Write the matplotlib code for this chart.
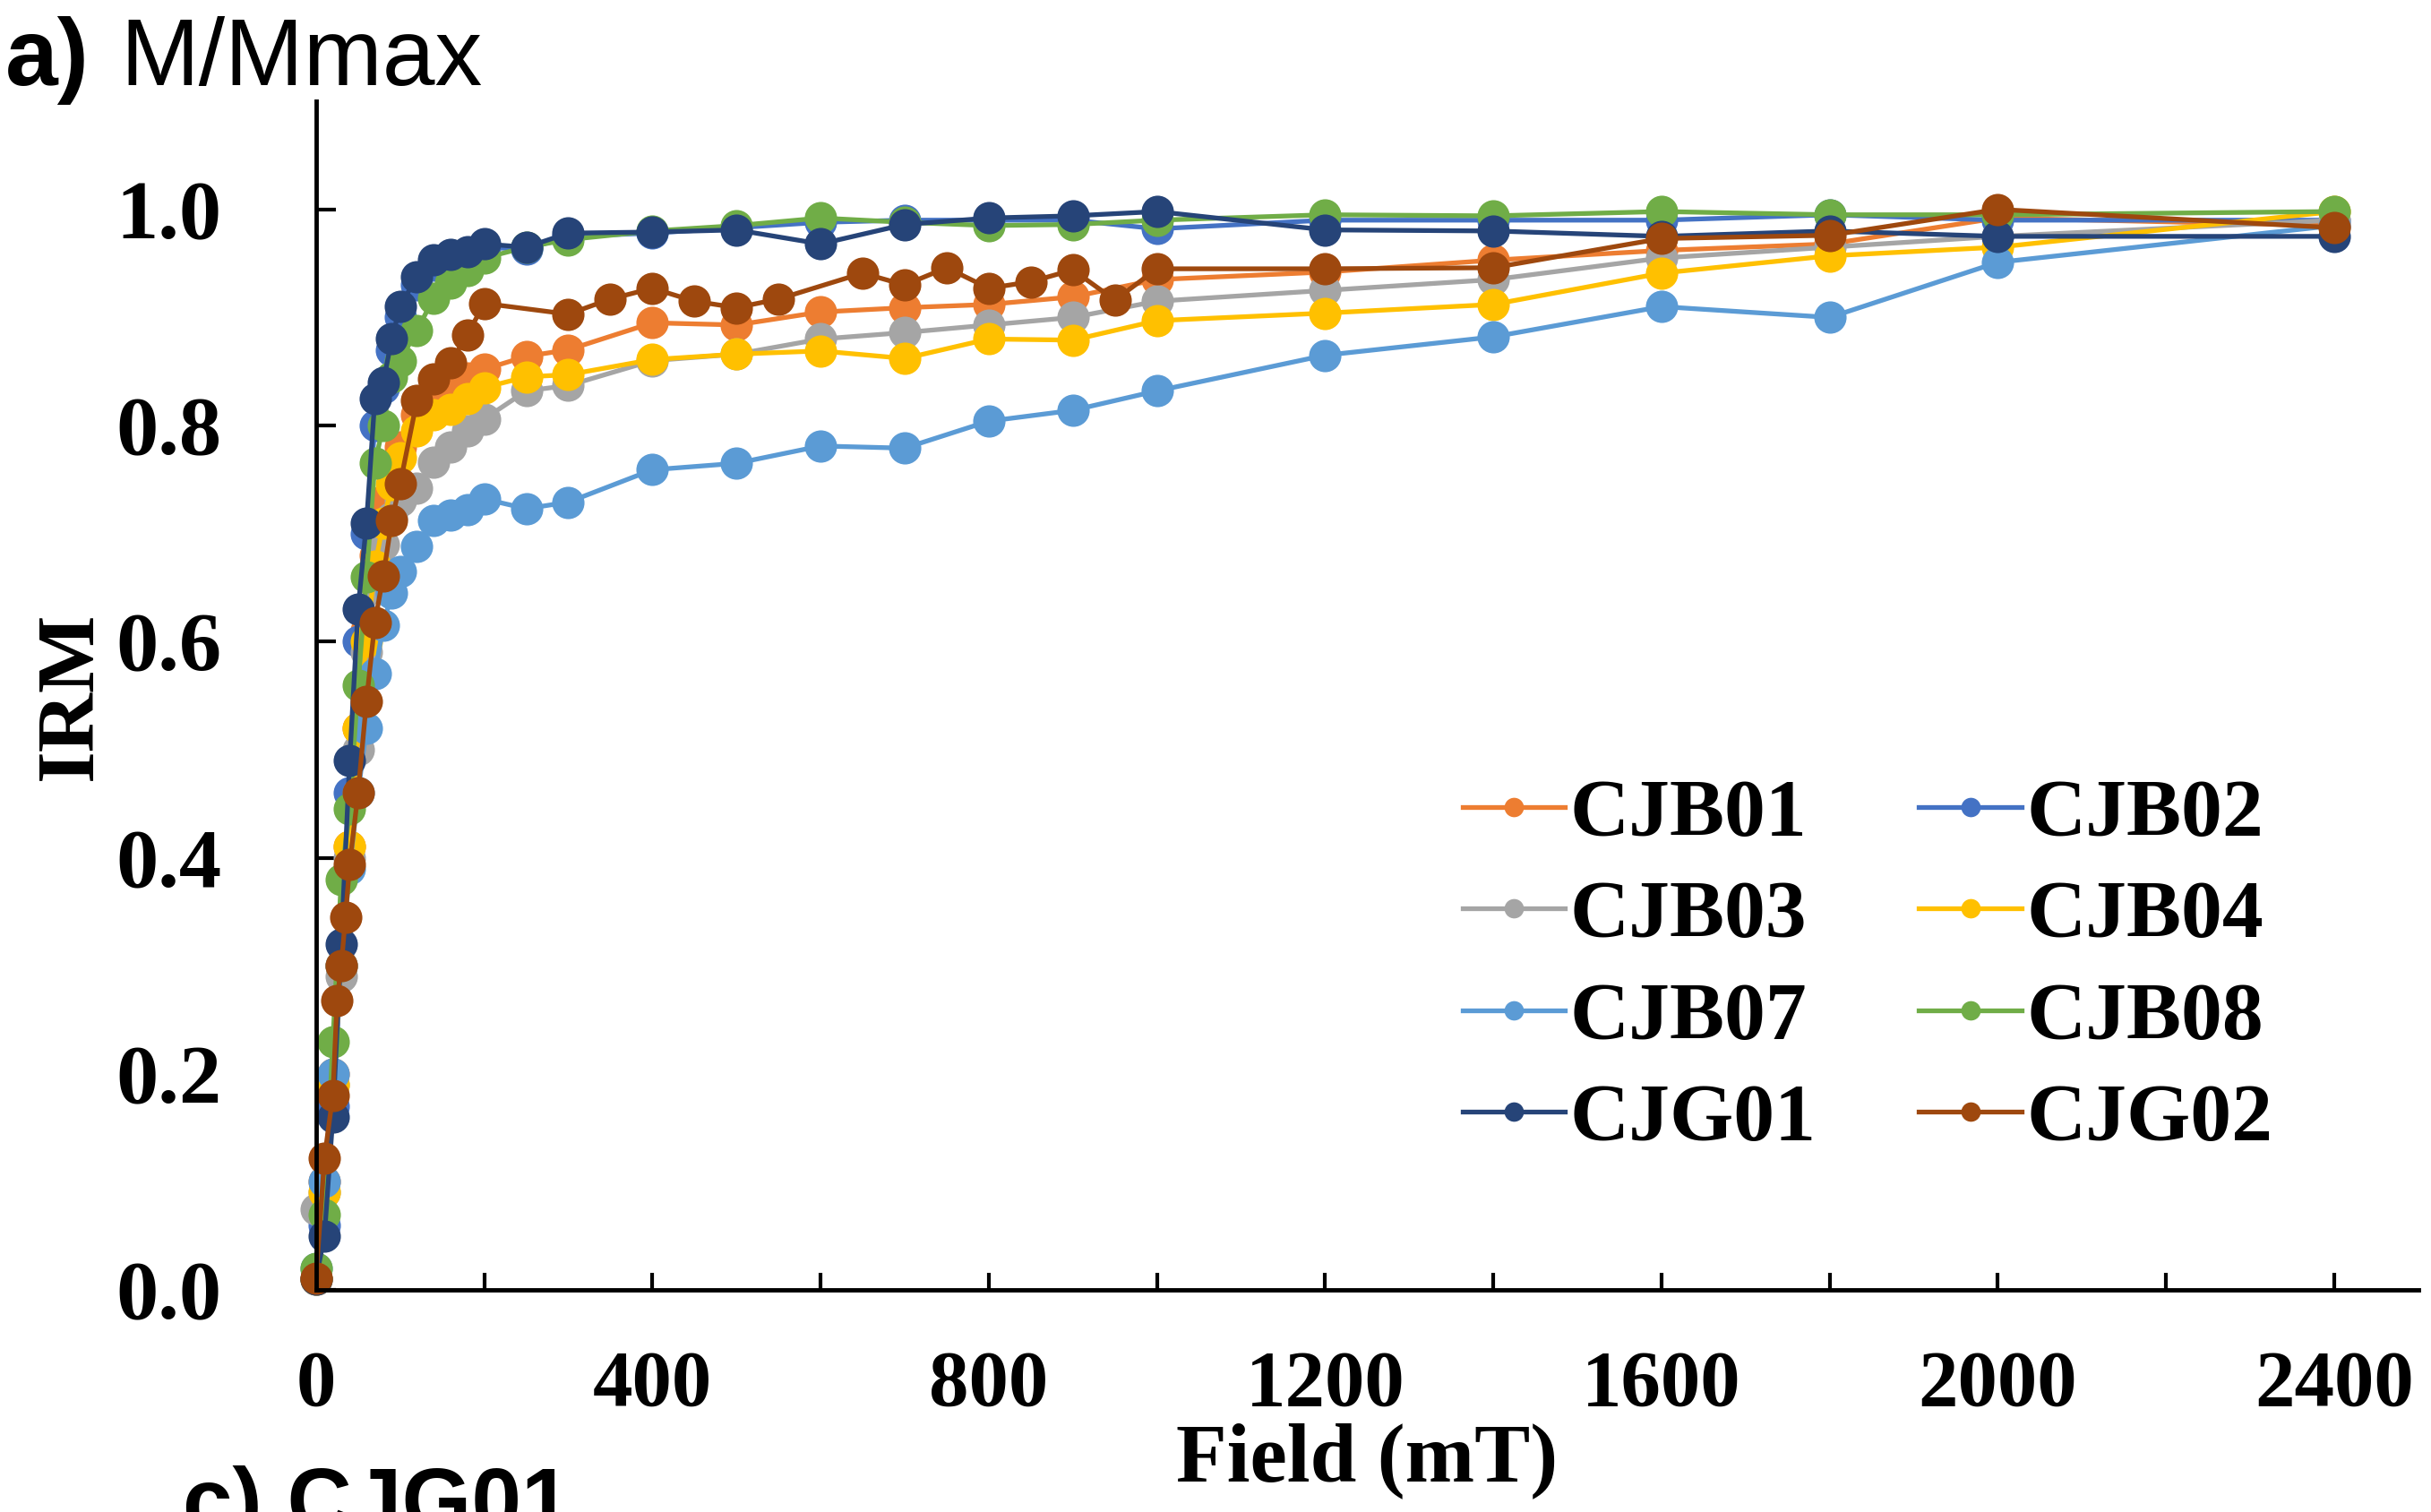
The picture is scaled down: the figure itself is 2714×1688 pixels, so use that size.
import matplotlib
matplotlib.use("Agg")
import matplotlib.pyplot as plt
from matplotlib.ticker import MultipleLocator, FormatStrFormatter

# ----- data ------------------------------------------------------------------
field = [0, 10, 20, 30, 40, 50, 60, 70, 80, 90, 100, 120, 140, 160, 180, 200,
         250, 300, 400, 500, 600, 700, 800, 900, 1000, 1200, 1400, 1600, 1800,
         2000, 2400]
field_g02 = [0, 10, 20, 25, 30, 35, 40, 50, 60, 70, 80, 90, 100, 120, 140, 160,
             180, 200, 300, 350, 400, 450, 500, 550, 650, 700, 750, 800, 850,
             900, 950, 1000, 1200, 1400, 1600, 1800, 2000, 2400]

cjb01 = [0.01, 0.10, 0.20, 0.30, 0.41, 0.52, 0.61, 0.68, 0.73, 0.76, 0.78, 0.81,
         0.826, 0.835, 0.844, 0.852, 0.864, 0.870, 0.895, 0.893, 0.905, 0.909,
         0.912, 0.919, 0.935, 0.942, 0.953, 0.962, 0.968, 0.992, 0.985]
cjb02 = [0.01, 0.06, 0.17, 0.30, 0.46, 0.60, 0.70, 0.80, 0.835, 0.87, 0.90, 0.93,
         0.948, 0.955, 0.96, 0.965, 0.963, 0.975, 0.978, 0.983, 0.988, 0.99,
         0.99, 0.99, 0.982, 0.99, 0.99, 0.99, 0.995, 0.99, 0.99]
cjb03 = [0.075, 0.09, 0.19, 0.29, 0.40, 0.50, 0.59, 0.65, 0.69, 0.715, 0.73,
         0.742, 0.766, 0.78, 0.795, 0.806, 0.832, 0.837, 0.86, 0.866, 0.88,
         0.886, 0.893, 0.90, 0.915, 0.925, 0.935, 0.955, 0.965, 0.975, 0.99]
cjb04 = [0.01, 0.09, 0.19, 0.30, 0.41, 0.52, 0.60, 0.67, 0.71, 0.745, 0.77,
         0.795, 0.81, 0.815, 0.825, 0.835, 0.845, 0.847, 0.861, 0.866, 0.869,
         0.862, 0.88, 0.879, 0.897, 0.904, 0.912, 0.941, 0.957, 0.965, 0.998]
cjb07 = [0.02, 0.10, 0.20, 0.30, 0.39, 0.46, 0.52, 0.57, 0.615, 0.645, 0.665,
         0.688, 0.712, 0.717, 0.722, 0.732, 0.723, 0.729, 0.759, 0.765, 0.781,
         0.779, 0.804, 0.814, 0.832, 0.865, 0.882, 0.910, 0.900, 0.951, 0.985]
cjb08 = [0.02, 0.07, 0.23, 0.38, 0.445, 0.56, 0.66, 0.765, 0.80, 0.845, 0.86,
         0.888, 0.918, 0.932, 0.943, 0.955, 0.965, 0.972, 0.98, 0.985, 0.992,
         0.988, 0.985, 0.986, 0.99, 0.995, 0.994, 0.998, 0.995, 0.995, 0.998]
cjg01 = [0.01, 0.05, 0.16, 0.32, 0.49, 0.63, 0.71, 0.825, 0.84, 0.88, 0.91,
         0.938, 0.953, 0.958, 0.961, 0.968, 0.965, 0.978, 0.979, 0.981, 0.968,
         0.986, 0.992, 0.994, 0.998, 0.981, 0.98, 0.975, 0.98, 0.975, 0.975]
cjg02 = [0.011, 0.122, 0.18, 0.268, 0.30, 0.345, 0.394, 0.46, 0.545, 0.618,
         0.661, 0.712, 0.746, 0.823, 0.843, 0.858, 0.884, 0.913, 0.903, 0.917,
         0.927, 0.915, 0.909, 0.917, 0.941, 0.930, 0.946, 0.927, 0.933, 0.944,
         0.916, 0.945, 0.945, 0.946, 0.973, 0.976, 1.0, 0.983]

names = ["CJB01", "CJB02", "CJB03", "CJB04", "CJB07", "CJB08", "CJG01", "CJG02"]
colors = ["#ED7D31", "#4472C4", "#A5A5A5", "#FFC000",
          "#5B9BD5", "#70AD47", "#264478", "#9E480E"]
series = [(field, cjb01), (field, cjb02), (field, cjb03), (field, cjb04),
          (field, cjb07), (field, cjb08), (field, cjg01), (field_g02, cjg02)]
# -----------------------------------------------------------------------------

serif = "Liberation Serif"
sans = "Liberation Sans"

fig = plt.figure(figsize=(27.14, 16.88), dpi=100)
ax = fig.add_axes([0.130, 0.1469, 0.8648, 0.7861])

handles = {}
for name, col, (x, y) in zip(names, colors, series):
    h, = ax.plot(x, y, color=col, lw=3.8, marker='o', ms=26,
                 markeredgewidth=0, label=name, clip_on=False)
    handles[name] = h

ax.set_xlim(0, 2500)
ax.set_ylim(0, 1.1)
ax.xaxis.set_major_locator(MultipleLocator(400))
ax.xaxis.set_minor_locator(MultipleLocator(200))
ax.set_yticks([0, 0.2, 0.4, 0.6, 0.8, 1.0])
ax.yaxis.set_major_formatter(FormatStrFormatter('%.1f'))

for s in ["top", "right"]:
    ax.spines[s].set_visible(False)
for s in ["left", "bottom"]:
    ax.spines[s].set_linewidth(3.5)
    ax.spines[s].set_color("black")

ax.tick_params(axis='x', which='both', direction='in', length=14, width=3,
               pad=48)
ax.tick_params(axis='y', which='major', direction='in', length=16, width=3,
               pad=76)
for lab in ax.get_xticklabels():
    lab.set_fontfamily(serif)
    lab.set_fontweight('bold')
    lab.set_fontsize(64)
for lab in ax.get_yticklabels():
    lab.set_fontfamily(serif)
    lab.set_fontweight('bold')
    lab.set_fontsize(68)

ax.set_xlabel("Field (mT)", fontfamily=serif, fontweight='bold', fontsize=67,
              labelpad=0)
ax.set_ylabel("IRM", fontfamily=serif, fontweight='bold', fontsize=66,
              labelpad=6)

order = ["CJB01", "CJB03", "CJB07", "CJG01", "CJB02", "CJB04", "CJB08", "CJG02"]
leg = ax.legend([handles[n] for n in order], order, ncol=2, loc='center',
                bbox_to_anchor=(0.738, 0.271), frameon=False, markerscale=0.6,
                handlelength=1.25, handletextpad=0.06, columnspacing=1.25,
                labelspacing=0.33, prop={'family': serif, 'weight': 'bold',
                                         'size': 66})

fig.text(0.002, 0.944, "a)", fontfamily=sans, fontweight='bold', fontsize=76,
         va='baseline', ha='left')
fig.text(0.0495, 0.944, "M/Mmax", fontfamily=sans, fontsize=76,
         va='baseline', ha='left')
fig.text(0.075, 0.031, "c) CJG01", fontfamily=sans, fontweight='bold',
         fontsize=72, va='top', ha='left')

fig.savefig("out.png", dpi=100)
